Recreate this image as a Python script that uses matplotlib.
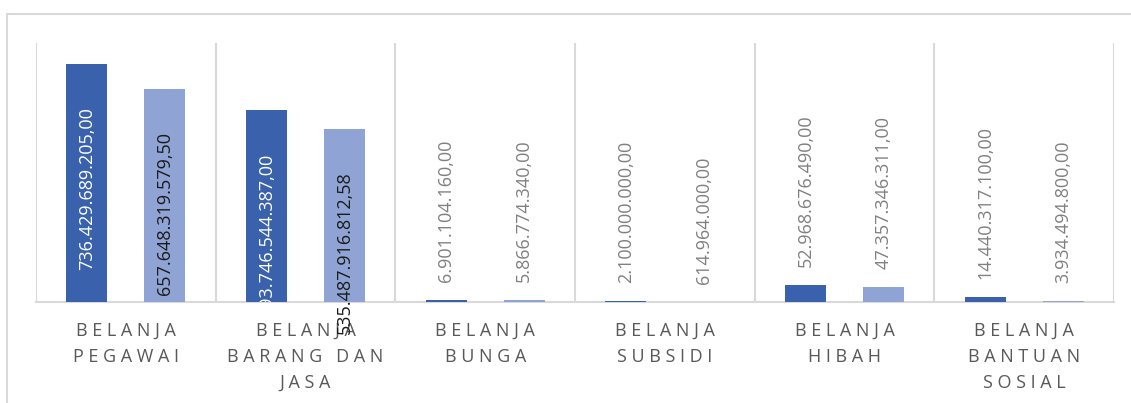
import matplotlib.pyplot as plt
from matplotlib.patches import Rectangle

categories = ['BELANJA\nPEGAWAI', 'BELANJA\nBARANG DAN\nJASA', 'BELANJA\nBUNGA',
              'BELANJA\nSUBSIDI', 'BELANJA\nHIBAH', 'BELANJA\nBANTUAN\nSOSIAL']
anggaran = [736429689205.00, 593746544387.00, 6901104160.00,
            2100000000.00, 52968676490.00, 14440317100.00]
realisasi = [657648319579.50, 535487916812.58, 5866774340.00,
             614964000.00, 47357346311.00, 3934494800.00]


def fmt(v):
    s = f'{v:,.2f}'
    return s.replace(',', 'X').replace('.', ',').replace('X', '.')


def spaced(label):
    return '\n'.join(' '.join(list(line)) for line in label.split('\n'))


W, H = 1131, 403
fig = plt.figure(figsize=(W / 100, H / 100), dpi=100)
ax = fig.add_axes([36 / W, 1 - 302 / H, (1114 - 36) / W, (302 - 43) / H])

dark = '#3A62AC'
light = '#8FA4D4'
off = 0.217
bw = 0.228
x = list(range(len(categories)))
b1 = ax.bar([i - off for i in x], anggaran, width=bw, color=dark, zorder=3)
b2 = ax.bar([i + off for i in x], realisasi, width=bw, color=light, zorder=3)

ax.set_xlim(-0.5, len(categories) - 0.5)
ax.set_ylim(0, 800e9)

for bars, vals, inside_color, clip in ((b1, anggaran, 'white', True),
                                       (b2, realisasi, '#1A1A1A', False)):
    for i, (b, v) in enumerate(zip(bars, vals)):
        cx = b.get_x() + b.get_width() / 2
        if v > 300e9:
            t = ax.annotate(fmt(v), (cx, v), xytext=(0, -31), textcoords='offset points',
                            rotation=90, ha='center', va='top', fontsize=13,
                            color=inside_color, family='Open Sans', zorder=4,
                            annotation_clip=False)
            t.set_clip_on(clip)
            if clip:
                t.set_clip_box(ax.bbox)
        else:
            ax.annotate(fmt(v), (cx, v), xytext=(0, 13), textcoords='offset points',
                        rotation=90, ha='center', va='bottom', fontsize=13,
                        color='#808080', family='Open Sans', zorder=4)

# category separators
for i in range(len(categories) + 1):
    ax.axvline(i - 0.5, color='#D9D9D9', lw=1.5, zorder=1)

for s in ['top', 'right', 'left']:
    ax.spines[s].set_visible(False)
ax.spines['bottom'].set_color('#D9D9D9')
ax.spines['bottom'].set_linewidth(1.5)
ax.set_yticks([])
ax.set_xticks(x)
ax.set_xticklabels([spaced(c) for c in categories], fontsize=13, color='#595959',
                   family='Open Sans', linespacing=1.58)
ax.tick_params(axis='x', length=0, pad=14)

fig.add_artist(Rectangle((6.5 / W, -0.1), 1.2, (H - 13.5) / H + 0.1,
                         transform=fig.transFigure, fill=False,
                         ec='#D9D9D9', lw=1.5))

fig.savefig('out.png', dpi=100)
